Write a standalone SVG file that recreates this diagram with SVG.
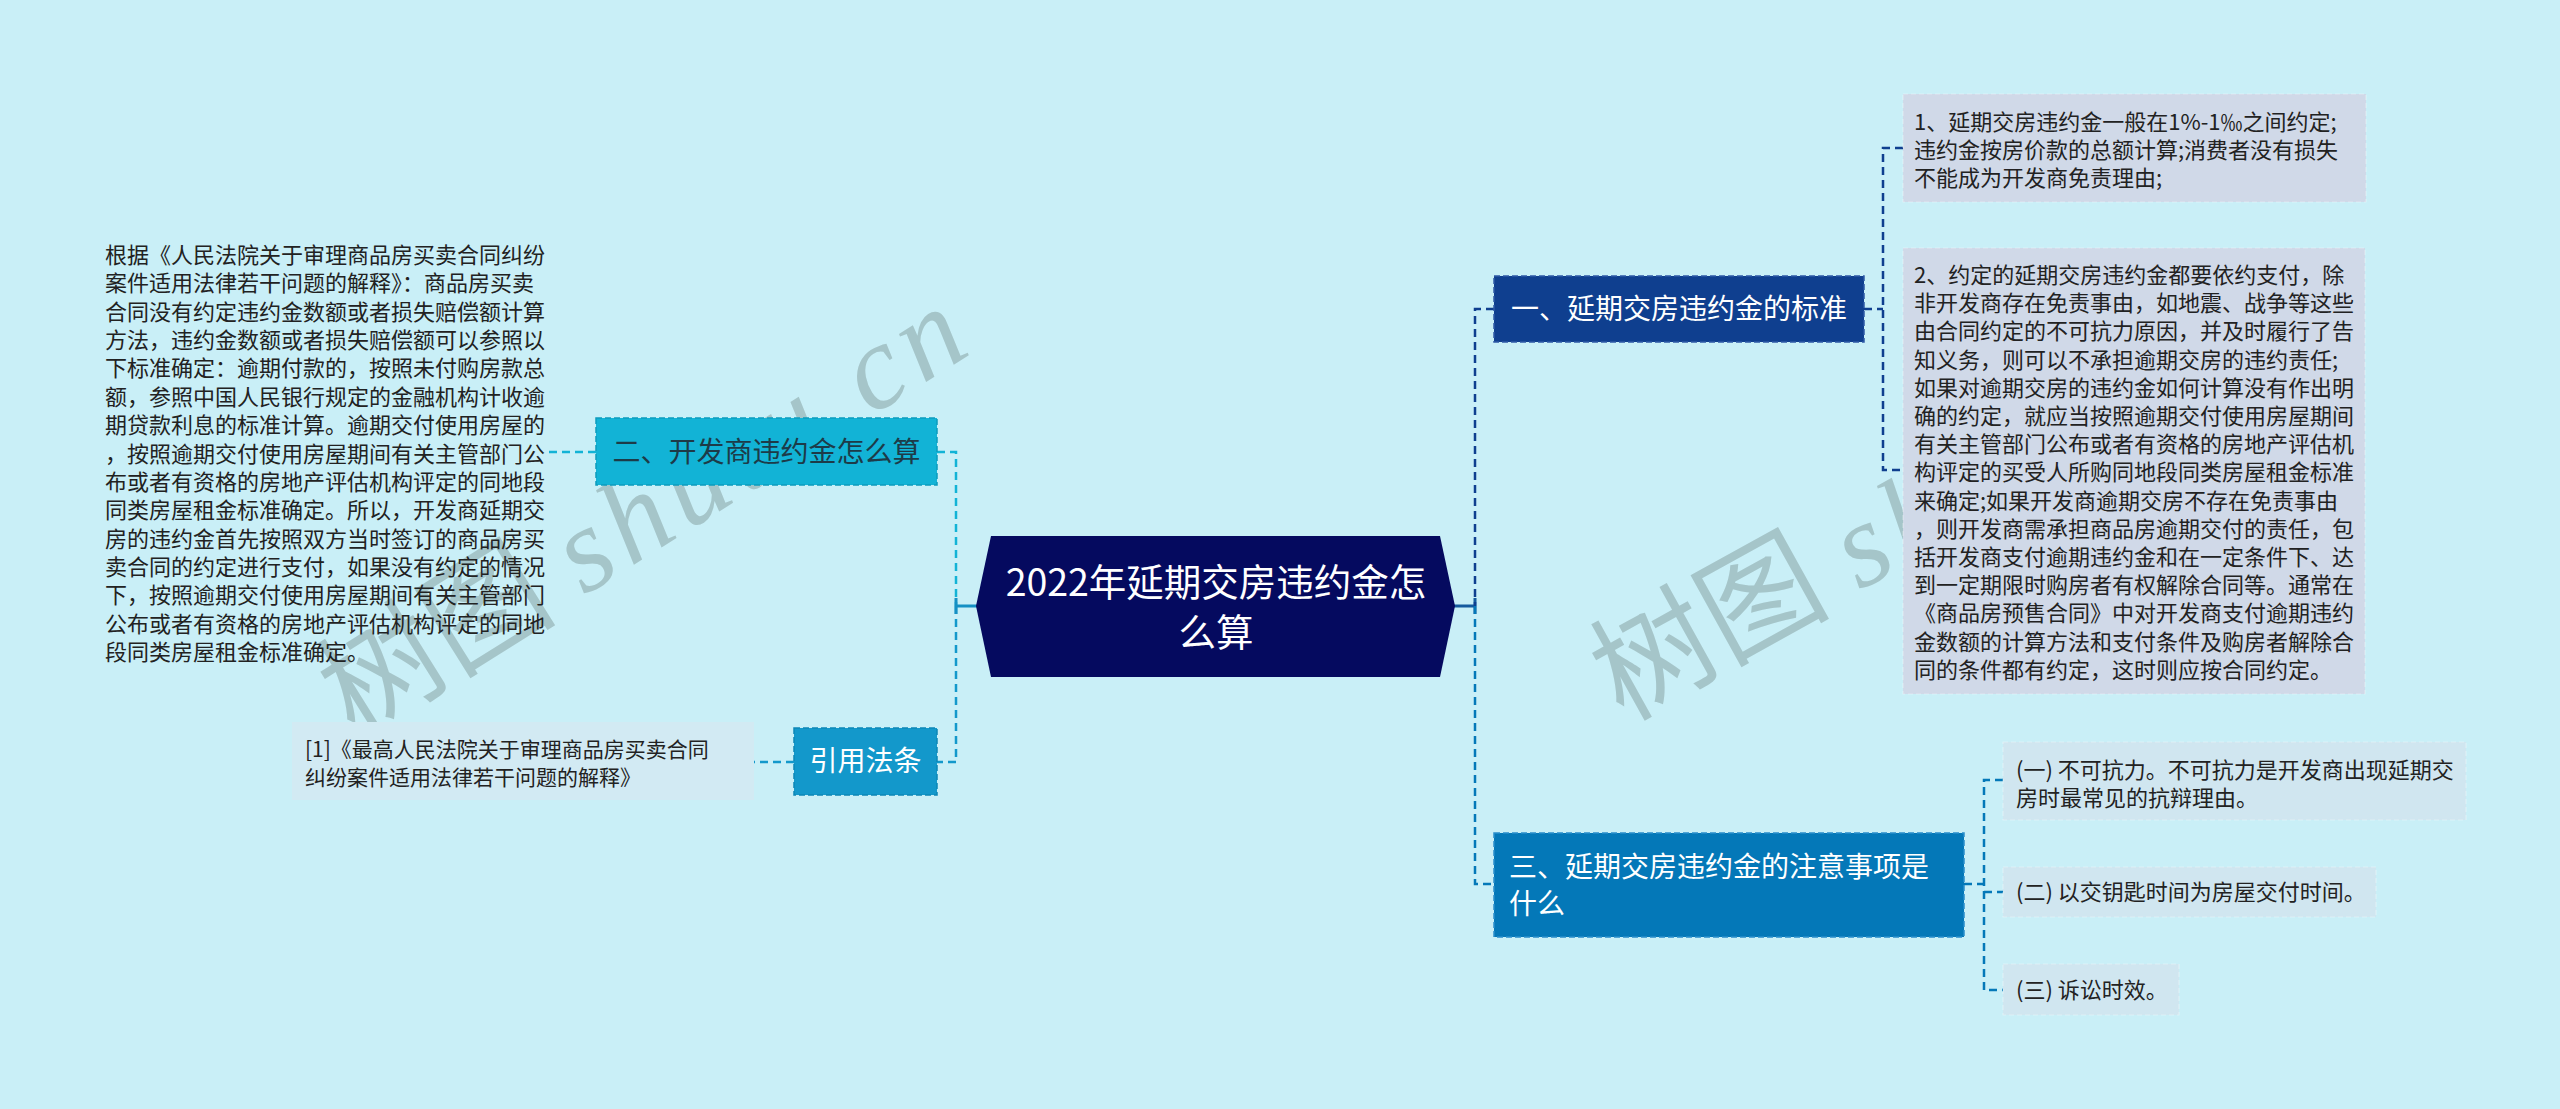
<svg xmlns="http://www.w3.org/2000/svg" width="2560" height="1109" viewBox="0 0 2560 1109">
<style>
text{font-family:"Noto Sans CJK SC","Liberation Sans",sans-serif}
.wm{font-family:"Liberation Serif","Noto Sans CJK SC",serif;font-size:120px;fill:#a5c5c9}
.t22{font-size:22px;fill:#222}
.t21{font-size:21px;fill:#222}
.t28{font-size:28px}
.w{fill:#fff}
.c{stroke-width:2.5;fill:none;stroke-dasharray:8 5}
.s{stroke-width:3;fill:none}
.leaf{stroke:#ffffff;stroke-opacity:.35;stroke-width:1.2;stroke-dasharray:5 3}
</style>
<rect width="2560" height="1109" fill="#c9eff7"/>
<text class="wm" transform="translate(355,739) rotate(-32)">树图 <tspan font-style="italic" letter-spacing="8">shutu.cn</tspan></text>
<text class="wm" transform="translate(1623,722) rotate(-29)">树图 <tspan font-style="italic" letter-spacing="8">shutu.cn</tspan></text>
<g id="connectors">
<path class="c" stroke="#12b3d6" d="M937,452 H956 V606"/>
<path class="c" stroke="#1398cb" d="M956,606 V762 H937"/>
<path class="s" stroke="#1590c4" d="M956,606 H977 M956,598 V614"/>
<path class="c" stroke="#12b3d6" d="M596,452 H547"/>
<path class="c" stroke="#1398cb" d="M794,762 H754"/>
<path class="s" stroke="#155a9e" d="M1453,606 H1475 M1475,598 V614"/>
<path class="c" stroke="#0f3f8f" d="M1494,309 H1475 V606"/>
<path class="c" stroke="#0478b8" d="M1475,606 V884 H1494"/>
<path class="c" stroke="#0f3f8f" d="M1864,309 H1883 M1903,148 H1883 V470 H1903"/>
<path class="c" stroke="#0478b8" d="M1964,884 H1984 M2003,780 H1984 V990 H2003 M1984,892 H2003"/>
</g>
<g id="root">
<polygon points="991,536 1440,536 1455,606 1440,677 991,677 976,606" fill="#050a5f"/>
<text class="w" font-size="37.5" text-anchor="middle" x="1216" y="596">2022年延期交房违约金怎<tspan x="1216" dy="50">么算</tspan></text>
</g>
<g id="n2">
<rect x="596" y="418" width="341" height="67" fill="#12b3d6" stroke="#0d9cbd" stroke-width="1.5" stroke-dasharray="6 3"/>
<text class="t28" fill="#1d3b48" text-anchor="middle" x="766.5" y="462">二、开发商违约金怎么算</text>
</g>
<g id="n2-text">
<text class="t22" x="105" y="263">根据《人民法院关于审理商品房买卖合同纠纷<tspan x="105" dy="28.36">案件适用法律若干问题的解释》：商品房买卖</tspan><tspan x="105" dy="28.36">合同没有约定违约金数额或者损失赔偿额计算</tspan><tspan x="105" dy="28.36">方法，违约金数额或者损失赔偿额可以参照以</tspan><tspan x="105" dy="28.36">下标准确定：逾期付款的，按照未付购房款总</tspan><tspan x="105" dy="28.36">额，参照中国人民银行规定的金融机构计收逾</tspan><tspan x="105" dy="28.36">期贷款利息的标准计算。逾期交付使用房屋的</tspan><tspan x="105" dy="28.36">，按照逾期交付使用房屋期间有关主管部门公</tspan><tspan x="105" dy="28.36">布或者有资格的房地产评估机构评定的同地段</tspan><tspan x="105" dy="28.36">同类房屋租金标准确定。所以，开发商延期交</tspan><tspan x="105" dy="28.36">房的违约金首先按照双方当时签订的商品房买</tspan><tspan x="105" dy="28.36">卖合同的约定进行支付，如果没有约定的情况</tspan><tspan x="105" dy="28.36">下，按照逾期交付使用房屋期间有关主管部门</tspan><tspan x="105" dy="28.36">公布或者有资格的房地产评估机构评定的同地</tspan><tspan x="105" dy="28.36">段同类房屋租金标准确定。</tspan></text>
</g>
<g id="ref">
<rect x="794" y="728" width="143" height="67" fill="#1398cb" stroke="#0d86b6" stroke-width="1.5" stroke-dasharray="6 3"/>
<text class="t28 w" text-anchor="middle" x="865.5" y="771">引用法条</text>
</g>
<g id="ref-text">
<rect x="292" y="722" width="462" height="78" fill="#d2eaf3"/>
<text class="t21" x="305" y="757">[1]《最高人民法院关于审理商品房买卖合同<tspan x="305" dy="28">纠纷案件适用法律若干问题的解释》</tspan></text>
</g>
<g id="n1">
<rect x="1494" y="276" width="370" height="66" fill="#0f3f8f" stroke="#2e5aa6" stroke-width="1.5" stroke-dasharray="6 3"/>
<text class="t28 w" text-anchor="middle" x="1679" y="319">一、延期交房违约金的标准</text>
</g>
<g id="n1-c1">
<rect class="leaf" x="1903" y="94" width="463" height="108" fill="#d0d9e8"/>
<text class="t22" x="1914" y="130">1、延期交房违约金一般在1%-1‰之间约定;<tspan x="1914" dy="28">违约金按房价款的总额计算;消费者没有损失</tspan><tspan x="1914" dy="28">不能成为开发商免责理由;</tspan></text>
</g>
<g id="n1-c2">
<rect class="leaf" x="1903" y="248" width="462" height="446" fill="#d0d9e8"/>
<text class="t22" x="1914" y="283">2、约定的延期交房违约金都要依约支付，除<tspan x="1914" dy="28.2">非开发商存在免责事由，如地震、战争等这些</tspan><tspan x="1914" dy="28.2">由合同约定的不可抗力原因，并及时履行了告</tspan><tspan x="1914" dy="28.2">知义务，则可以不承担逾期交房的违约责任;</tspan><tspan x="1914" dy="28.2">如果对逾期交房的违约金如何计算没有作出明</tspan><tspan x="1914" dy="28.2">确的约定，就应当按照逾期交付使用房屋期间</tspan><tspan x="1914" dy="28.2">有关主管部门公布或者有资格的房地产评估机</tspan><tspan x="1914" dy="28.2">构评定的买受人所购同地段同类房屋租金标准</tspan><tspan x="1914" dy="28.2">来确定;如果开发商逾期交房不存在免责事由</tspan><tspan x="1914" dy="28.2">，则开发商需承担商品房逾期交付的责任，包</tspan><tspan x="1914" dy="28.2">括开发商支付逾期违约金和在一定条件下、达</tspan><tspan x="1914" dy="28.2">到一定期限时购房者有权解除合同等。通常在</tspan><tspan x="1914" dy="28.2">《商品房预售合同》中对开发商支付逾期违约</tspan><tspan x="1914" dy="28.2">金数额的计算方法和支付条件及购房者解除合</tspan><tspan x="1914" dy="28.2">同的条件都有约定，这时则应按合同约定。</tspan></text>
</g>
<g id="n3">
<rect x="1494" y="833" width="470" height="104" fill="#0478b8" stroke="#2a8fcb" stroke-width="1.5" stroke-dasharray="6 3"/>
<text class="t28 w" x="1509" y="877">三、延期交房违约金的注意事项是<tspan x="1509" dy="37">什么</tspan></text>
</g>
<g id="n3-c1">
<rect class="leaf" x="2003" y="742" width="463" height="78" fill="#d0e6f0"/>
<text class="t22" x="2016" y="778">(一) 不可抗力。不可抗力是开发商出现延期交<tspan x="2016" dy="28">房时最常见的抗辩理由。</tspan></text>
</g>
<g id="n3-c2">
<rect class="leaf" x="2003" y="867" width="373" height="50" fill="#d0e6f0"/>
<text class="t22" x="2016" y="900">(二) 以交钥匙时间为房屋交付时间。</text>
</g>
<g id="n3-c3">
<rect class="leaf" x="2003" y="964" width="176" height="51" fill="#d0e6f0"/>
<text class="t22" x="2016" y="998">(三) 诉讼时效。</text>
</g>
</svg>
